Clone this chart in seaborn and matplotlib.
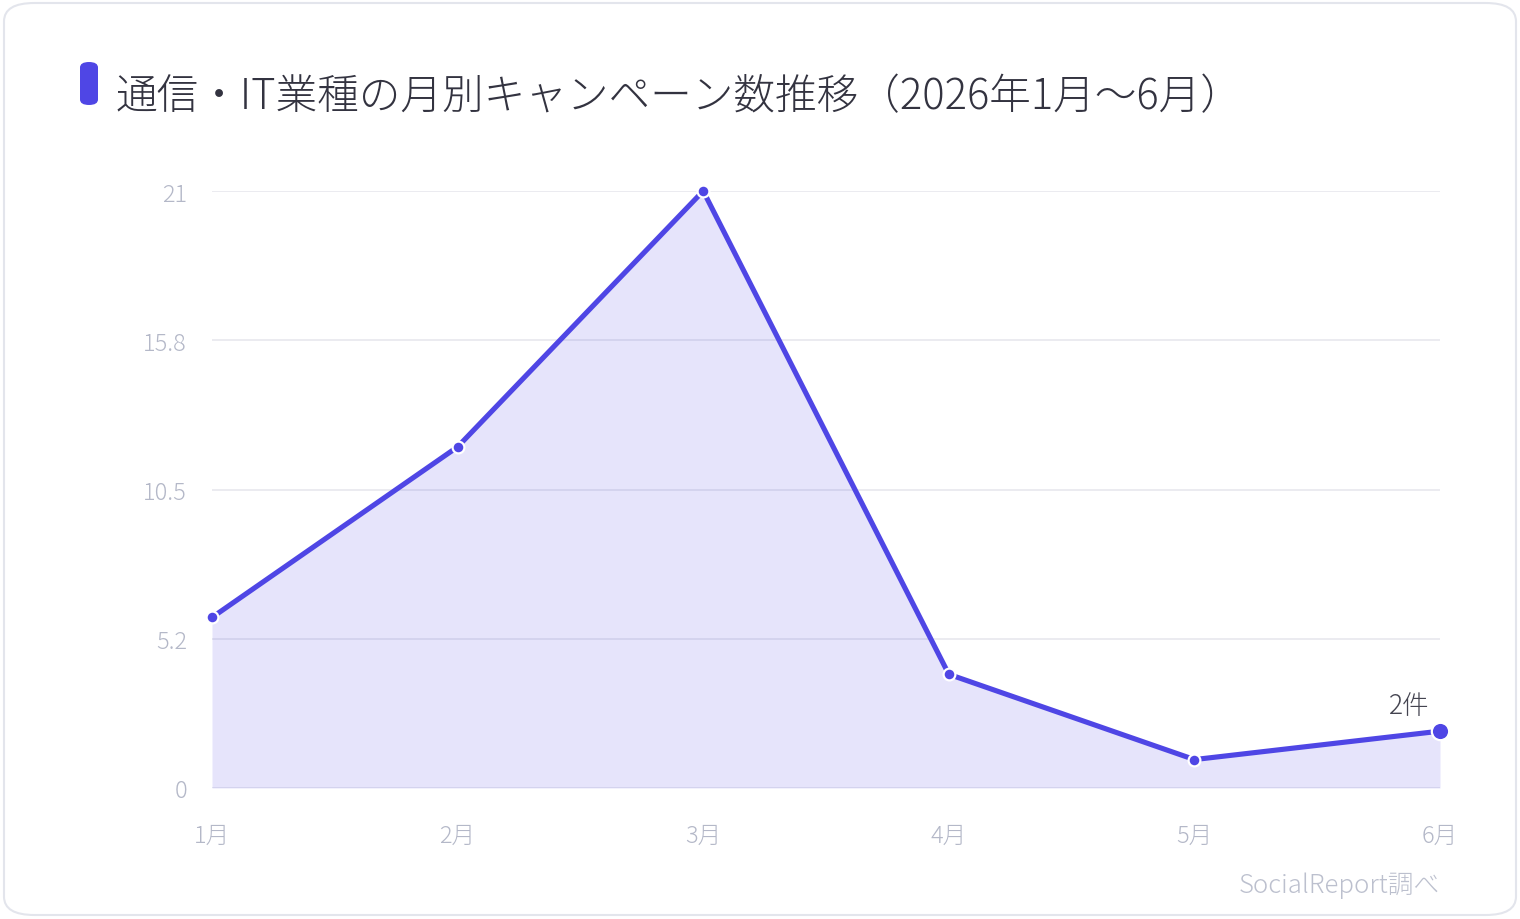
import matplotlib
matplotlib.use("Agg")
import matplotlib.pyplot as plt
from matplotlib.patches import FancyBboxPatch
import seaborn as sns
import pandas as pd

months = ["1月", "2月", "3月", "4月", "5月", "6月"]
counts = [6, 12, 21, 4, 1, 2]
y_ticks = [0, 5.25, 10.5, 15.75, 21]
y_tick_labels = ["0", "5.2", "10.5", "15.8", "21"]
title = "通信・IT業種の月別キャンペーン数推移（2026年1月〜6月）"
source = "SocialReport調べ"
last_label = "2件"

sns.set_theme(style="white")
plt.rcParams['font.family'] = ['Noto Sans CJK JP', 'DejaVu Sans']

LINE = "#4F46E5"
W, H = 1520, 920
fig = plt.figure(figsize=(W / 100, H / 100), dpi=100)
fig.patch.set_facecolor("white")

# card border
card = FancyBboxPatch((4 / W, 4 / H), (W - 8) / W, (H - 8) / H,
                      boxstyle="round,pad=0,rounding_size=0.02",
                      transform=fig.transFigure, facecolor="none",
                      edgecolor="#E3E5EC", linewidth=1.5, zorder=-1)
fig.patches.append(card)

# title marker
mark = FancyBboxPatch((80 / W, (H - 106) / H), 18 / W, 43 / H,
                      boxstyle="round,pad=0,rounding_size=0.006",
                      transform=fig.transFigure, facecolor=LINE,
                      edgecolor="none", zorder=2)
fig.patches.append(mark)
fig.text(116 / W, (H - 97) / H, title, fontsize=30, fontweight="light",
         color="#333340", va="center", ha="left")

ax = fig.add_axes([212 / W, (H - 789) / H, (1440 - 212) / W, (789 - 192) / H])
ax.set_facecolor("none")

df = pd.DataFrame({"month": months, "count": counts, "x": range(len(months))})
ax.fill_between(df["x"], 0, df["count"], color=LINE, alpha=0.14, linewidth=0, zorder=1)
sns.lineplot(data=df, x="x", y="count", ax=ax, color=LINE, linewidth=3.7,
             marker="o", markersize=8.5, markeredgecolor="white",
             markeredgewidth=1.6, clip_on=False, zorder=3)
ax.plot(df["x"].iloc[-1], df["count"].iloc[-1], "o", color=LINE,
        markersize=12.5, markeredgecolor="white", markeredgewidth=1.6,
        clip_on=False, zorder=4)
ax.annotate(last_label, (df["x"].iloc[-1], df["count"].iloc[-1]),
            xytext=(-22, 9), textcoords="offset points", ha="center",
            va="bottom", fontsize=19, fontweight="light", color="#444450")

ax.set_xlim(0, len(months) - 1)
ax.set_ylim(0, 21)
ax.set_xticks(range(len(months)))
ax.set_xticklabels(months)
ax.set_yticks(y_ticks)
ax.set_yticklabels(y_tick_labels)
ax.set_xlabel("")
ax.set_ylabel("")
ax.grid(axis="y", color="#E8E8EE", linewidth=1.2)
ax.grid(axis="x", visible=False)
for s in ax.spines.values():
    s.set_visible(False)
ax.tick_params(axis="both", length=0, labelsize=17, labelcolor="#B4B8C8")
ax.tick_params(axis="y", pad=18)
ax.tick_params(axis="x", pad=25)
for t in ax.get_xticklabels() + ax.get_yticklabels():
    t.set_fontweight("light")

fig.text(1440 / W, (H - 886) / H, source, fontsize=18.5, fontweight="light",
         color="#BCC0CE", ha="right", va="center")

fig.savefig("out.png", dpi=100)
